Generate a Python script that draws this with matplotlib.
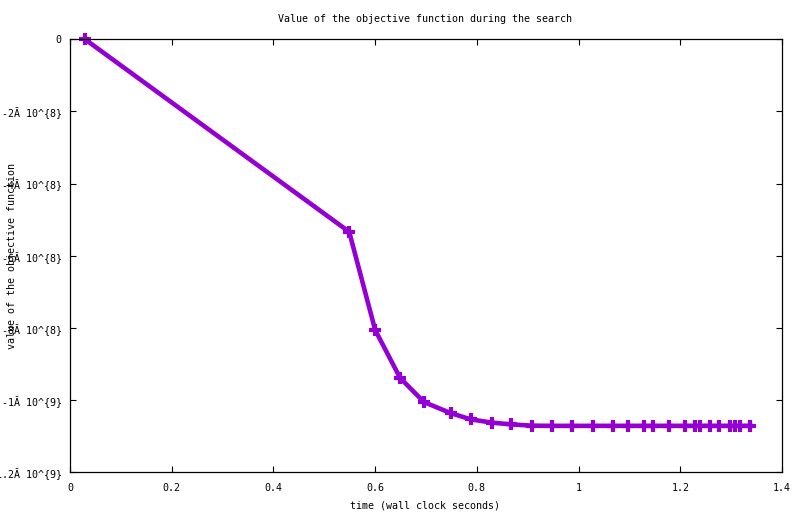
import matplotlib
matplotlib.use("Agg")
import matplotlib.pyplot as plt

# data (time in seconds, objective value)
times = [0.0295, 0.549, 0.600, 0.649, 0.696, 0.749, 0.788, 0.829, 0.868,
         0.908, 0.947, 0.988, 1.028, 1.067, 1.098, 1.128, 1.147, 1.177,
         1.209, 1.228, 1.238, 1.258, 1.277, 1.297, 1.307, 1.317, 1.338]
values = [0.0, -5.34e8, -8.06e8, -9.39e8, -1.006e9, -1.037e9, -1.054e9,
          -1.063e9, -1.068e9, -1.0715e9, -1.072e9, -1.072e9, -1.072e9,
          -1.072e9, -1.072e9, -1.072e9, -1.072e9, -1.072e9, -1.072e9,
          -1.072e9, -1.072e9, -1.072e9, -1.072e9, -1.072e9, -1.072e9,
          -1.072e9, -1.072e9]

xticks = [0, 0.2, 0.4, 0.6, 0.8, 1.0, 1.2, 1.4]
xticklabels = ["0", "0.2", "0.4", "0.6", "0.8", "1", "1.2", "1.4"]
yticks = [0, -2e8, -4e8, -6e8, -8e8, -1e9, -1.2e9]
yticklabels = ["0", "-2Ă 10^{8}", "-4Ă 10^{8}", "-6Ă 10^{8}", "-8Ă 10^{8}",
               "-1Ă 10^{9}", "-1.2Ă 10^{9}"]

title = "Value of the objective function during the search"
xlabel = "time (wall clock seconds)"
ylabel = "value of the objective function"

plt.rcParams['font.family'] = ['DejaVu Sans Mono', 'DejaVu Sans']
FS = 7.2

fig = plt.figure(figsize=(8.0, 5.14), dpi=100)
ax = fig.add_axes([70/800, 1-472/514, (782-70)/800, (472-39.3)/514])

ax.plot(times, values, color="#9400D3", lw=3.3, marker='+', ms=8, mew=3,
        solid_joinstyle='miter', clip_on=False)

ax.set_xlim(0, 1.4)
ax.set_ylim(-1.2e9, 0)
ax.set_xticks(xticks)
ax.set_xticklabels(xticklabels, fontsize=FS)
ax.set_yticks(yticks)
ax.set_yticklabels(yticklabels, fontsize=FS)
ax.tick_params(direction='in', length=4.5, width=0.8, top=True, right=True,
               color='black')
ax.tick_params(axis='x', pad=8)
ax.tick_params(axis='y', pad=6)
for s in ax.spines.values():
    s.set_linewidth(0.9)

fig.text(425/800, 1-19/514, title, fontsize=FS, ha='center', va='center')
fig.text(425/800, 1-505/514, xlabel, fontsize=FS, ha='center', va='center')
fig.text(12/800, 1-256/514, ylabel, fontsize=FS, ha='center', va='center',
         rotation=90)

fig.savefig("out.png", dpi=100)
